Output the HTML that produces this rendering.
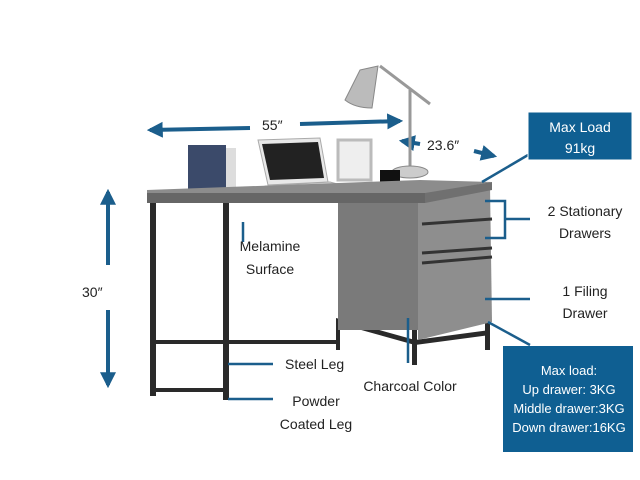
<!DOCTYPE html><html><head><style>body{margin:0;background:#fff}svg{display:block}text{font-family:"Liberation Sans",sans-serif;fill:#222}</style></head><body>
<svg width="640" height="480" viewBox="0 0 640 480">
<defs><marker id="a" viewBox="0 0 10 10" refX="8" refY="5" markerWidth="4" markerHeight="4" orient="auto"><path d="M0,0L10,5L0,10z" fill="#1b5e8c"/></marker></defs>
<g stroke="#1b5e8c" stroke-width="4" fill="none">
<line x1="250" y1="128" x2="150" y2="130" marker-end="url(#a)"/>
<line x1="300" y1="124" x2="400" y2="121" marker-end="url(#a)"/>
<line x1="420" y1="144" x2="402" y2="141" marker-end="url(#a)"/>
<line x1="474" y1="151" x2="494" y2="156" marker-end="url(#a)"/>
<line x1="108" y1="265" x2="108" y2="192" marker-end="url(#a)"/>
<line x1="108" y1="310" x2="108" y2="385" marker-end="url(#a)"/>
</g>
<!-- lamp -->
<g stroke="#999" stroke-width="3" fill="none"><line x1="410" y1="90" x2="410" y2="170"/><line x1="380" y1="66" x2="430" y2="104"/></g>
<path d="M360,70 L378,66 L372,108 Q355,108 345,100 Z" fill="#bbb" stroke="#888"/>
<ellipse cx="410" cy="172" rx="18" ry="6" fill="#ccc" stroke="#888"/>
<!-- books -->
<rect x="188" y="145" width="38" height="48" fill="#3b4a6a"/><rect x="226" y="148" width="10" height="45" fill="#ddd"/>
<!-- laptop -->
<path d="M258,140 L320,138 L328,182 L268,185 Z" fill="#e8e8e8" stroke="#aaa"/><path d="M262,144 L318,142 L324,178 L270,180 Z" fill="#222"/>
<path d="M266,186 L330,182 L360,190 L282,195 Z" fill="#ddd" stroke="#aaa"/>
<!-- frame -->
<rect x="338" y="140" width="33" height="40" fill="#eee" stroke="#bbb" stroke-width="3"/>
<rect x="380" y="170" width="20" height="16" fill="#111"/><ellipse cx="393" cy="187" rx="14" ry="3" fill="#222"/>
<!-- desk legs/frame -->
<g fill="#2a2a2a"><rect x="150" y="198" width="6" height="198"/><rect x="223" y="200" width="6" height="200"/><rect x="156" y="340" width="184" height="4"/><rect x="156" y="388" width="68" height="4"/><rect x="336" y="320" width="4" height="30"/><rect x="412" y="330" width="5" height="35"/><rect x="485" y="320" width="5" height="30"/><path d="M336,318 L415,340 L490,330 L490,335 L415,345 L336,323Z"/></g>
<!-- cabinet -->
<rect x="338" y="200" width="80" height="130" fill="#7a7a7a"/>
<path d="M418,196 L490,186 L492,322 L418,340 Z" fill="#8e8e8e"/>
<g stroke="#333" stroke-width="3"><line x1="422" y1="224" x2="492" y2="219"/><line x1="422" y1="253" x2="492" y2="248"/><line x1="422" y1="263" x2="492" y2="257"/></g>
<!-- top -->
<path d="M147,190 L420,180 L492,182 L425,194 L147,196Z" fill="#8c8c8c"/>
<path d="M147,193 L425,193 L425,203 L147,203Z" fill="#666"/>
<path d="M425,193 L492,182 L492,190 L425,203Z" fill="#707070"/>
<!-- pointer lines -->
<g stroke="#1b5e8c" stroke-width="2.5" fill="none">
<line x1="243" y1="222" x2="243" y2="242"/><line x1="228" y1="364" x2="273" y2="364"/><line x1="228" y1="399" x2="273" y2="399"/>
<line x1="408" y1="318" x2="408" y2="363"/>
<path d="M485,201 H505 V238 H485 M505,219 H530"/>
<line x1="485" y1="299" x2="530" y2="299"/>
<line x1="482" y1="182" x2="528" y2="155"/><line x1="488" y1="322" x2="530" y2="345"/>
</g>
<text x="262" y="130" font-size="14">55″</text>
<text x="427" y="150" font-size="14">23.6″</text>
<text x="82" y="297" font-size="14">30″</text>
<text x="270" y="251" font-size="14" text-anchor="middle">Melamine</text><text x="270" y="274" font-size="14" text-anchor="middle">Surface</text>
<text x="285" y="369" font-size="14">Steel Leg</text>
<text x="316" y="406" font-size="14" text-anchor="middle">Powder</text><text x="316" y="429" font-size="14" text-anchor="middle">Coated Leg</text>
<text x="410" y="391" font-size="14" text-anchor="middle">Charcoal Color</text>
<text x="585" y="216" font-size="14" text-anchor="middle">2 Stationary</text><text x="585" y="238" font-size="14" text-anchor="middle">Drawers</text>
<text x="585" y="296" font-size="14" text-anchor="middle">1 Filing</text><text x="585" y="318" font-size="14" text-anchor="middle">Drawer</text>
<rect x="528" y="112" width="104" height="48" fill="#0f5f92" stroke="#fff" stroke-width="1"/>
<text x="580" y="132" font-size="14" text-anchor="middle" style="fill:#fff">Max Load</text><text x="580" y="153" font-size="14" text-anchor="middle" style="fill:#fff">91kg</text>
<rect x="503" y="346" width="130" height="106" fill="#0f5f92"/>
<g font-size="13" text-anchor="middle" style="fill:#fff"><text x="569" y="375" style="fill:#fff">Max load:</text><text x="569" y="394" style="fill:#fff">Up drawer: 3KG</text><text x="569" y="413" style="fill:#fff">Middle drawer:3KG</text><text x="569" y="432" style="fill:#fff">Down drawer:16KG</text></g>
</svg></body></html>
